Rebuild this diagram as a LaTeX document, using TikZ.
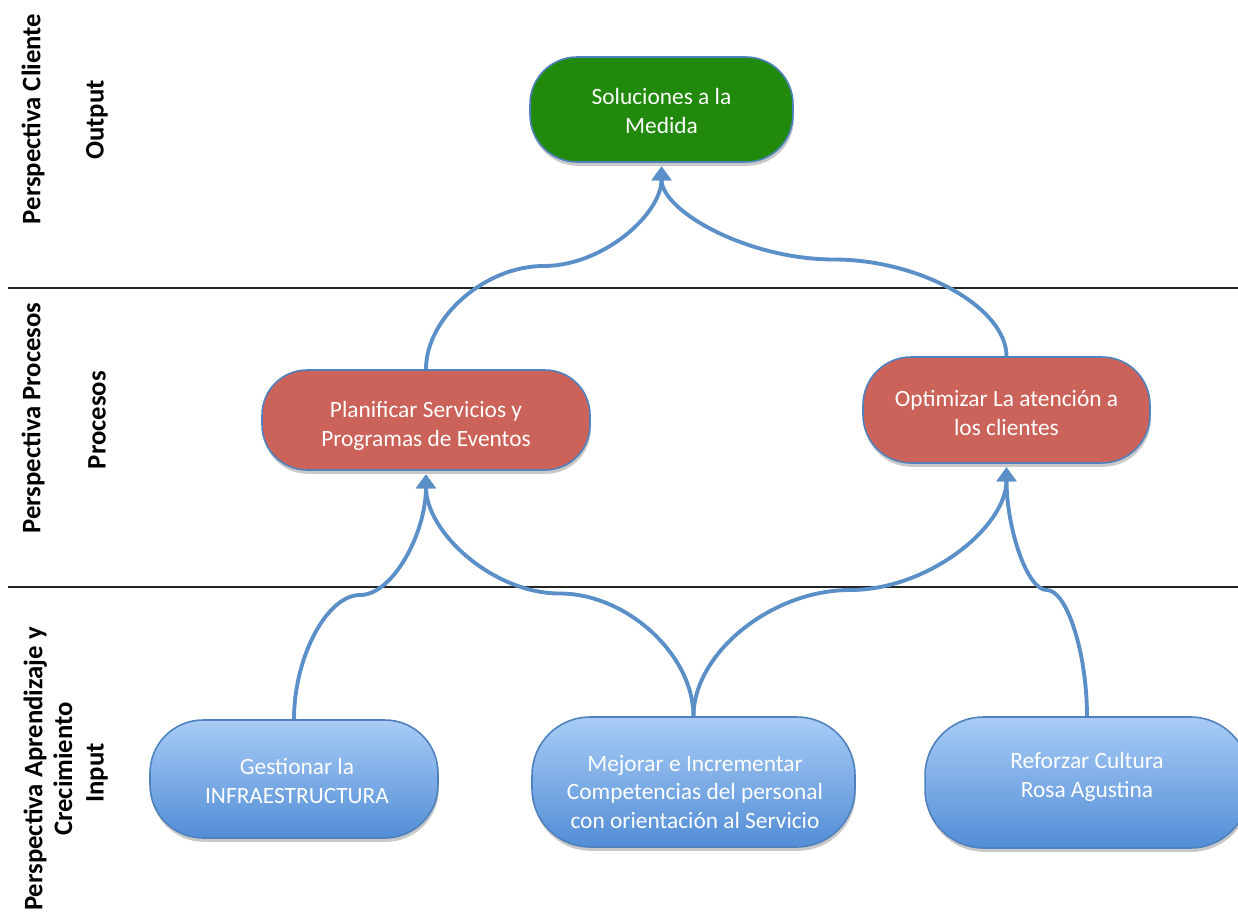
\documentclass[tikz,border=0pt]{standalone}
\usepackage{fontspec}
\setmainfont{Carlito}
\usetikzlibrary{arrows.meta,shadows,calc}

\definecolor{edgeblue}{RGB}{79,129,189}
\definecolor{linkblue}{RGB}{90,143,200}
\definecolor{outgreen}{RGB}{33,138,12}
\definecolor{procred}{RGB}{203,99,90}
\definecolor{inlight}{RGB}{168,204,246}
\definecolor{indark}{RGB}{82,141,214}
\definecolor{rulegray}{RGB}{35,35,35}

\begin{document}
\begin{tikzpicture}[x=0.02cm,y=-0.02cm,
  box/.style={draw=edgeblue, line width=0.9pt, inner sep=0pt,
    drop shadow={shadow xshift=0.5pt, shadow yshift=-2.2pt, opacity=0.3, fill=black!70}},
  outbox/.style={box, fill=outgreen},
  procbox/.style={box, fill=procred},
  inbox/.style={box, top color=inlight, bottom color=indark},
  boxtext/.style={text=white, align=center, inner sep=0pt,
    font=\fontsize{13.3}{16.4}\selectfont},
  sidelabel/.style={rotate=90, align=center, inner sep=0pt,
    font=\bfseries\fontsize{15.2}{17}\selectfont},
  rule/.style={draw=rulegray, line width=1.1pt},
  curvelink/.style={draw=linkblue, line width=2.2pt,
    -{Triangle[width=11pt,length=8pt]}, shorten >=2pt,
    to path={let \p1=(\tikztostart), \p2=(\tikztotarget) in
      .. controls (\x1,{(3*\y1+\y2)/4}) and ({(3*\x1+\x2)/4},{(\y1+\y2)/2})
      .. ({(\x1+\x2)/2},{(\y1+\y2)/2})
      .. controls ({(\x1+3*\x2)/4},{(\y1+\y2)/2}) and (\x2,{(\y1+3*\y2)/4})
      .. (\x2,\y2) \tikztonodes}}
]
\useasboundingbox (0,0) rectangle (1238,913);

% band separators
\coordinate (r1a) at (8,288);  \coordinate (r1b) at (1238,288);
\coordinate (r2a) at (8,587);  \coordinate (r2b) at (1238,587);
\draw[rule] (r1a) -- (r1b);
\draw[rule] (r2a) -- (r2b);

% side labels
\node[sidelabel] (pcli) at (33,119) {Perspectiva Cliente};
\node[sidelabel] (outp) at (97,120) {Output};
\node[sidelabel] (ppro) at (33,418) {Perspectiva Procesos};
\node[sidelabel] (proc) at (97,420) {Procesos};
\node[sidelabel] (papr) at (48,769) {Perspectiva Aprendizaje y\\Crecimiento};
\node[sidelabel] (inpt) at (97,773) {Input};

% boxes
\node[outbox, minimum width=5.26cm, minimum height=2.10cm, rounded corners=0.94cm] (sol) at (661.5,109.5) {};
\node[procbox, minimum width=6.56cm, minimum height=2.00cm, rounded corners=0.90cm] (plan) at (426,420) {};
\node[procbox, minimum width=5.74cm, minimum height=2.12cm, rounded corners=0.96cm] (opt) at (1006.5,410) {};
\node[inbox, minimum width=5.76cm, minimum height=2.36cm, rounded corners=1.06cm] (gest) at (294,779) {};
\node[inbox, minimum width=6.46cm, minimum height=2.60cm, rounded corners=1.16cm] (mej) at (693.5,782) {};
\node[inbox, minimum width=6.48cm, minimum height=2.62cm, rounded corners=1.17cm] (ref) at (1087,782.5) {};

% box texts
\node[boxtext] (sol-t)  at (661.5,111) {Soluciones a la\\Medida};
\node[boxtext] (plan-t) at (426,426) {Planificar Servicios y\\Programas de Eventos};
\node[boxtext] (opt-t)  at (1006.5,413) {Optimizar La atención a\\los clientes};
\node[boxtext] (gest-t) at (297,781) {Gestionar la\\INFRAESTRUCTURA};
\node[boxtext] (mej-t)  at (695,792) {Mejorar e Incrementar\\Competencias del personal\\con orientación al Servicio};
\node[boxtext] (ref-t)  at (1087,777) {Reforzar Cultura\\Rosa Agustina};

% links
\draw[curvelink] (plan.north) to (sol.south);
\draw[curvelink] (opt.north) to (sol.south);
\draw[curvelink] (gest.north) to (plan.south);
\draw[curvelink] (mej.north) to (plan.south);
\draw[curvelink] (mej.north) to (opt.south);
\draw[curvelink] (ref.north) to (opt.south);
\end{tikzpicture}
\end{document}
